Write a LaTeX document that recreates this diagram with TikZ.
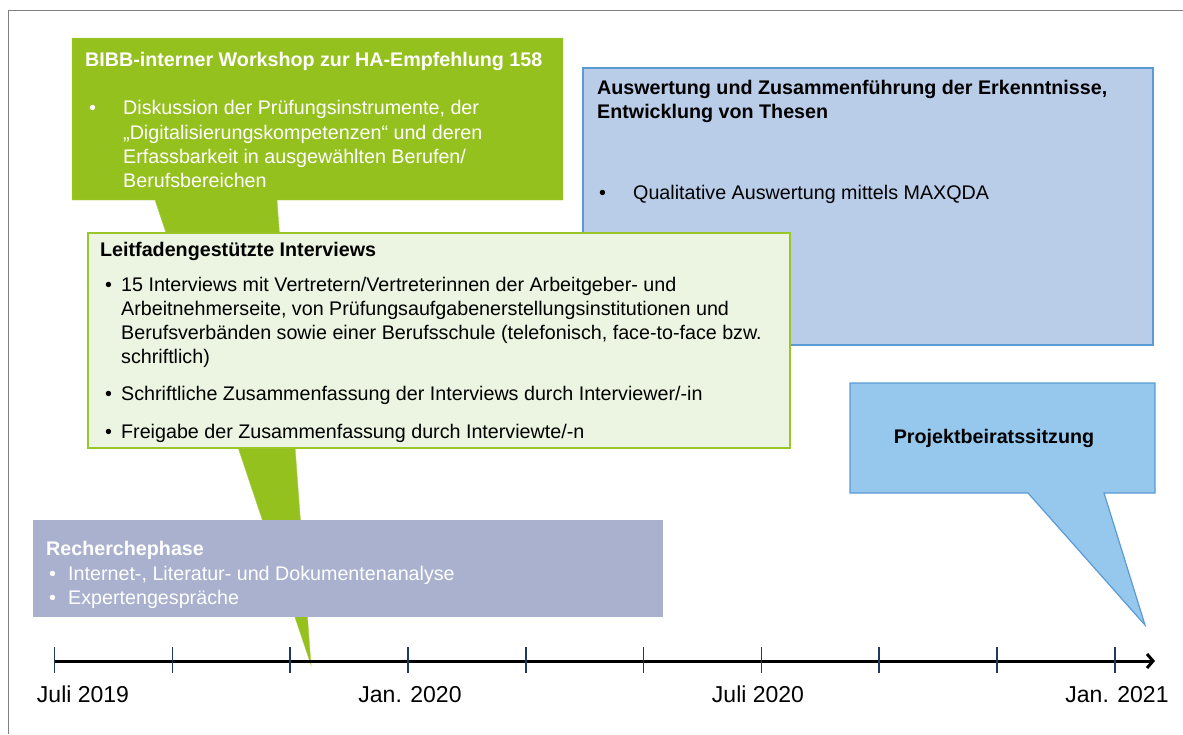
\documentclass[tikz,border=0pt]{standalone}
\usepackage{fontspec}
\setmainfont{Liberation Sans}
\usetikzlibrary{arrows.meta}
\definecolor{wsgreen}{RGB}{149,193,31}
\definecolor{ivfill}{RGB}{235,245,225}
\definecolor{ivline}{RGB}{155,198,42}
\definecolor{awfill}{RGB}{185,205,233}
\definecolor{blueline}{RGB}{91,155,213}
\definecolor{pbfill}{RGB}{149,200,236}
\definecolor{refill}{RGB}{169,177,206}
\definecolor{ticknavy}{RGB}{31,56,100}
\newcommand{\bul}[1]{\makebox[#1][l]{\textbullet}}
\begin{document}
\begin{tikzpicture}[x=1pt,y=-1pt,
    txt/.style={anchor=north west,inner sep=0pt,align=left},
    fs/.style={font=\fontsize{19.7}{#1}\selectfont},
    datelabel/.style={anchor=base,inner sep=0pt,font=\fontsize{23}{26}\selectfont}]
    \useasboundingbox (0,0) rectangle (1183,734);
    \draw[gray] (8,734) -- (8,10) -- (1183,10);
    % workshop callout
    \filldraw[wsgreen,draw=wsgreen!80!white] (72,38) -- (563,38) -- (563,200) -- (277,200) -- (311,665) -- (155,200) -- (72,200) -- cycle;
    \node[txt,fs=24.3,white] (ws) at (85,52.5) {\textbf{BIBB-interner Workshop zur HA-Empfehlung 158}\\[23.7pt]
        \hspace*{4pt}\bul{34pt}Diskussion der Prüfungsinstrumente, der\\
        \hspace*{38pt}„Digitalisierungskompetenzen“ und deren\\
        \hspace*{38pt}Erfassbarkeit in ausgewählten Berufen/\\
        \hspace*{38pt}Berufsbereichen};
    % auswertung
    \filldraw[fill=awfill,draw=blueline,line width=1.2pt] (583,68) rectangle (1153,345);
    \node[txt,fs=24] (aw) at (597,80.5) {\textbf{Auswertung und Zusammenführung der Erkenntnisse,}\\
        \textbf{Entwicklung von Thesen}\\[57pt]
        \hspace*{2pt}\bul{34pt}Qualitative Auswertung mittels MAXQDA};
    % interviews
    \filldraw[fill=ivfill,draw=ivline,line width=1.5pt] (88,233) rectangle (790,448);
    \node[txt,fs=24] (iv) at (100,242.5) {\textbf{Leitfadengestützte Interviews}\\[11pt]
        \hspace*{5pt}\bul{16pt}15 Interviews mit Vertretern/Vertreterinnen der Arbeitgeber- und\\
        \hspace*{21pt}Arbeitnehmerseite, von Prüfungsaufgabenerstellungsinstitutionen und\\
        \hspace*{21pt}Berufsverbänden sowie einer Berufsschule (telefonisch, face-to-face bzw.\\
        \hspace*{21pt}schriftlich)\\[13pt]
        \hspace*{5pt}\bul{16pt}Schriftliche Zusammenfassung der Interviews durch Interviewer/-in\\[14pt]
        \hspace*{5pt}\bul{16pt}Freigabe der Zusammenfassung durch Interviewte/-n};
    % recherchephase
    \fill[refill] (33,520) rectangle (663,617);
    \node[txt,fs=24.5,white] (re) at (46,541.5) {\textbf{Recherchephase}\\
        \hspace*{3pt}\bul{19pt}Internet-, Literatur- und Dokumentenanalyse\\
        \hspace*{3pt}\bul{19pt}Expertengespräche};
    % projektbeirat callout
    \filldraw[fill=pbfill,draw=blueline,line width=1.2pt] (850,383) -- (1155,383) -- (1155,493) -- (1104,493) -- (1145,625) -- (1028,493) -- (850,493) -- cycle;
    \node[font=\fontsize{19.7}{24}\selectfont\bfseries] (pb) at (994,438) {Projektbeiratssitzung};
    % timeline
    \coordinate (t0) at (54,661);
    \coordinate (t1) at (1155,661);
    \draw[line width=3pt,-{Straight Barb[length=6pt,width=14pt]}] (t0) -- (t1);
    \foreach \i in {0,...,9}
        \draw[ticknavy,line width=1.6pt] (54.5+117.8*\i,647) -- (54.5+117.8*\i,673);
    \node[datelabel] (j19) at (83,702) {Juli 2019};
    \node[datelabel] (j20) at (410,702) {Jan. 2020};
    \node[datelabel] (l20) at (758,702) {Juli 2020};
    \node[datelabel] (j21) at (1117,702) {Jan. 2021};
\end{tikzpicture}
\end{document}
